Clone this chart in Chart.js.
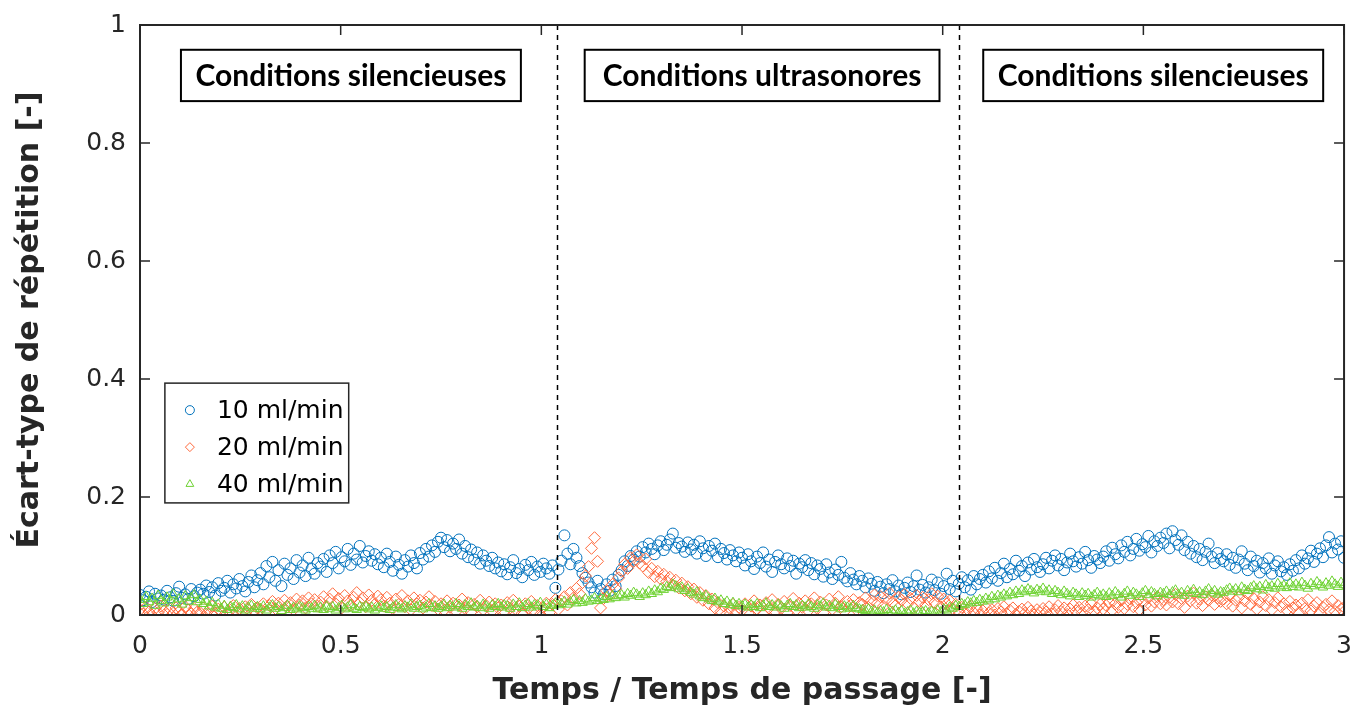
<!DOCTYPE html>
<html lang="fr">
<head>
<meta charset="UTF-8">
<title>Écart-type de répétition</title>
<script src="https://cdn.jsdelivr.net/npm/chart.js"></script>
<style>
  body { margin: 0; background: #fff; }
  canvas { display: block; }
</style>
</head>
<body>
<canvas id="stdChart" width="1360" height="711"></canvas>
<script>
// temps adimensionnel : 0 à 3 par pas de 0.0075 (401 points par série, 20 par ligne)
const xStep = 0.0075;

// 10 ml/min
const serie10 = [
  0.034, 0.025, 0.031, 0.040, 0.022, 0.036, 0.028, 0.033, 0.026, 0.041, 0.030, 0.024, 0.037, 0.048, 0.029, 0.035, 0.027, 0.044, 0.032, 0.038,
  0.043, 0.036, 0.050, 0.039, 0.047, 0.033, 0.054, 0.041, 0.046, 0.058, 0.038, 0.052, 0.045, 0.061, 0.049, 0.040, 0.056, 0.067, 0.047, 0.059,
  0.071, 0.052, 0.083, 0.064, 0.090, 0.058, 0.076, 0.049, 0.087, 0.068, 0.079, 0.061, 0.093, 0.072, 0.084, 0.066, 0.097, 0.078, 0.070, 0.088,
  0.082, 0.095, 0.073, 0.101, 0.088, 0.107, 0.079, 0.098, 0.091, 0.112, 0.085, 0.104, 0.094, 0.117, 0.089, 0.100, 0.108, 0.092, 0.103, 0.086,
  0.097, 0.081, 0.104, 0.090, 0.075, 0.099, 0.085, 0.070, 0.093, 0.082, 0.101, 0.088, 0.079, 0.105, 0.094, 0.112, 0.099, 0.118, 0.107, 0.124,
  0.131, 0.115, 0.127, 0.108, 0.121, 0.112, 0.128, 0.104, 0.117, 0.098, 0.111, 0.094, 0.106, 0.087, 0.101, 0.092, 0.083, 0.097, 0.079, 0.089,
  0.074, 0.086, 0.069, 0.081, 0.093, 0.071, 0.078, 0.064, 0.085, 0.076, 0.090, 0.068, 0.082, 0.073, 0.087, 0.079, 0.070, 0.084, 0.046, 0.077,
  0.092, 0.135, 0.104, 0.086, 0.112, 0.097, 0.083, 0.071, 0.063, 0.055, 0.047, 0.038, 0.058, 0.044, 0.035, 0.052, 0.041, 0.060, 0.049, 0.068,
  0.076, 0.091, 0.083, 0.100, 0.094, 0.108, 0.099, 0.115, 0.106, 0.121, 0.112, 0.103, 0.118, 0.125, 0.110, 0.119, 0.128, 0.138, 0.114, 0.122,
  0.116, 0.107, 0.123, 0.111, 0.119, 0.104, 0.125, 0.113, 0.100, 0.117, 0.109, 0.121, 0.098, 0.112, 0.105, 0.094, 0.110, 0.101, 0.091, 0.106,
  0.097, 0.084, 0.103, 0.091, 0.078, 0.099, 0.088, 0.106, 0.082, 0.094, 0.073, 0.090, 0.101, 0.086, 0.079, 0.096, 0.083, 0.092, 0.070, 0.087,
  0.081, 0.093, 0.076, 0.088, 0.069, 0.084, 0.078, 0.065, 0.086, 0.072, 0.061, 0.077, 0.068, 0.090, 0.063, 0.057, 0.071, 0.060, 0.052, 0.066,
  0.058, 0.047, 0.062, 0.053, 0.041, 0.056, 0.048, 0.037, 0.052, 0.044, 0.059, 0.040, 0.050, 0.035, 0.046, 0.055, 0.039, 0.049, 0.067, 0.043,
  0.051, 0.038, 0.047, 0.060, 0.042, 0.055, 0.036, 0.049, 0.070, 0.044, 0.058, 0.040, 0.053, 0.064, 0.047, 0.059, 0.043, 0.066, 0.052, 0.061,
  0.068, 0.055, 0.074, 0.062, 0.080, 0.058, 0.071, 0.087, 0.064, 0.078, 0.069, 0.092, 0.075, 0.083, 0.066, 0.089, 0.077, 0.095, 0.081, 0.073,
  0.086, 0.097, 0.079, 0.092, 0.101, 0.084, 0.095, 0.076, 0.089, 0.104, 0.091, 0.082, 0.098, 0.087, 0.107, 0.093, 0.080, 0.100, 0.094, 0.088,
  0.099, 0.108, 0.092, 0.114, 0.103, 0.096, 0.118, 0.107, 0.124, 0.101, 0.112, 0.129, 0.109, 0.120, 0.115, 0.134, 0.106, 0.125, 0.117, 0.131,
  0.122, 0.138, 0.113, 0.142, 0.127, 0.119, 0.135, 0.110, 0.124, 0.104, 0.117, 0.098, 0.112, 0.093, 0.107, 0.121, 0.099, 0.088, 0.105, 0.095,
  0.091, 0.103, 0.085, 0.097, 0.080, 0.094, 0.108, 0.087, 0.076, 0.099, 0.083, 0.092, 0.072, 0.088, 0.079, 0.096, 0.070, 0.084, 0.091, 0.074,
  0.081, 0.068, 0.086, 0.075, 0.093, 0.079, 0.101, 0.087, 0.096, 0.109, 0.090, 0.104, 0.113, 0.098, 0.118, 0.132, 0.106, 0.121, 0.111, 0.125,
  0.097
];

// 20 ml/min
const serie20 = [
  0.009, 0.002, 0.013, 0.005, 0.000, 0.011, 0.004, 0.015, 0.007, 0.001, 0.010, 0.003, 0.012, 0.006, 0.000, 0.014, 0.008, 0.002, 0.011, 0.005,
  0.004, 0.012, 0.001, 0.009, 0.015, 0.003, 0.010, 0.006, 0.013, 0.002, 0.008, 0.016, 0.005, 0.011, 0.004, 0.014, 0.009, 0.018, 0.007, 0.012,
  0.010, 0.019, 0.006, 0.016, 0.023, 0.011, 0.020, 0.008, 0.025, 0.014, 0.021, 0.009, 0.027, 0.017, 0.024, 0.012, 0.029, 0.019, 0.026, 0.015,
  0.022, 0.031, 0.015, 0.027, 0.036, 0.019, 0.028, 0.012, 0.033, 0.024, 0.017, 0.030, 0.038, 0.021, 0.029, 0.014, 0.034, 0.025, 0.018, 0.032,
  0.026, 0.015, 0.030, 0.020, 0.011, 0.027, 0.018, 0.033, 0.014, 0.024, 0.009, 0.029, 0.019, 0.025, 0.012, 0.022, 0.031, 0.016, 0.023, 0.010,
  0.019, 0.008, 0.024, 0.013, 0.020, 0.006, 0.017, 0.027, 0.011, 0.021, 0.005, 0.018, 0.014, 0.025, 0.009, 0.016, 0.022, 0.007, 0.019, 0.012,
  0.017, 0.006, 0.021, 0.012, 0.025, 0.009, 0.015, 0.003, 0.019, 0.011, 0.023, 0.007, 0.016, 0.001, 0.013, 0.020, 0.004, 0.018, 0.026, 0.010,
  0.024, 0.031, 0.017, 0.038, 0.029, 0.045, 0.036, 0.055, 0.066, 0.082, 0.113, 0.131, 0.091, 0.012, 0.028, 0.041, 0.034, 0.052, 0.045, 0.063,
  0.074, 0.086, 0.079, 0.097, 0.091, 0.102, 0.088, 0.083, 0.095, 0.072, 0.079, 0.065, 0.074, 0.061, 0.069, 0.057, 0.064, 0.051, 0.059, 0.046,
  0.054, 0.041, 0.048, 0.036, 0.044, 0.030, 0.038, 0.025, 0.033, 0.019, 0.027, 0.012, 0.021, 0.006, 0.015, 0.002, 0.011, 0.018, 0.004, 0.013,
  0.008, 0.019, 0.003, 0.015, 0.024, 0.010, 0.017, 0.001, 0.021, 0.012, 0.026, 0.006, 0.018, 0.011, 0.023, 0.004, 0.016, 0.028, 0.009, 0.020,
  0.013, 0.024, 0.007, 0.019, 0.029, 0.011, 0.022, 0.004, 0.017, 0.027, 0.010, 0.020, 0.031, 0.014, 0.006, 0.023, 0.016, 0.026, 0.009, 0.021,
  0.018, 0.029, 0.013, 0.024, 0.034, 0.020, 0.031, 0.015, 0.027, 0.037, 0.022, 0.016, 0.030, 0.025, 0.035, 0.019, 0.028, 0.012, 0.033, 0.023,
  0.030, 0.017, 0.026, 0.036, 0.021, 0.032, 0.014, 0.027, 0.019, 0.024, 0.011, 0.018, 0.006, 0.013, 0.002, 0.009, 0.015, 0.004, 0.011, 0.000,
  0.007, 0.013, 0.003, 0.009, 0.000, 0.011, 0.005, 0.014, 0.002, 0.008, 0.012, 0.001, 0.006, 0.010, 0.003, 0.013, 0.007, 0.000, 0.009, 0.004,
  0.011, 0.005, 0.014, 0.002, 0.009, 0.016, 0.006, 0.012, 0.001, 0.010, 0.017, 0.007, 0.013, 0.004, 0.015, 0.009, 0.019, 0.006, 0.012, 0.018,
  0.010, 0.016, 0.022, 0.008, 0.019, 0.013, 0.025, 0.011, 0.018, 0.027, 0.014, 0.021, 0.009, 0.024, 0.017, 0.029, 0.015, 0.022, 0.031, 0.019,
  0.026, 0.017, 0.030, 0.022, 0.035, 0.019, 0.028, 0.013, 0.032, 0.024, 0.037, 0.020, 0.027, 0.016, 0.031, 0.025, 0.034, 0.018, 0.029, 0.023,
  0.027, 0.019, 0.033, 0.015, 0.025, 0.030, 0.012, 0.024, 0.036, 0.018, 0.028, 0.010, 0.022, 0.031, 0.016, 0.026, 0.009, 0.021, 0.029, 0.014,
  0.019, 0.008, 0.023, 0.012, 0.017, 0.004, 0.020, 0.011, 0.026, 0.007, 0.015, 0.021, 0.003, 0.013, 0.018, 0.009, 0.024, 0.006, 0.016, 0.010,
  0.013
];

// 40 ml/min
const serie40 = [
  0.026, 0.019, 0.031, 0.022, 0.028, 0.016, 0.033, 0.024, 0.020, 0.030, 0.025, 0.035, 0.021, 0.027, 0.018, 0.032, 0.023, 0.029, 0.034, 0.022,
  0.026, 0.019, 0.023, 0.015, 0.021, 0.013, 0.018, 0.011, 0.016, 0.009, 0.014, 0.012, 0.017, 0.010, 0.015, 0.008, 0.013, 0.016, 0.011, 0.014,
  0.010, 0.015, 0.008, 0.013, 0.017, 0.011, 0.014, 0.007, 0.012, 0.016, 0.009, 0.013, 0.010, 0.015, 0.012, 0.008, 0.014, 0.011, 0.016, 0.010,
  0.013, 0.009, 0.015, 0.011, 0.014, 0.008, 0.012, 0.016, 0.010, 0.013, 0.017, 0.011, 0.009, 0.014, 0.012, 0.015, 0.010, 0.013, 0.008, 0.012,
  0.015, 0.011, 0.014, 0.009, 0.013, 0.017, 0.012, 0.010, 0.015, 0.013, 0.018, 0.011, 0.014, 0.016, 0.010, 0.013, 0.019, 0.012, 0.015, 0.011,
  0.014, 0.018, 0.012, 0.016, 0.013, 0.019, 0.015, 0.011, 0.017, 0.014, 0.020, 0.013, 0.016, 0.012, 0.018, 0.015, 0.011, 0.017, 0.014, 0.019,
  0.013, 0.017, 0.015, 0.011, 0.018, 0.014, 0.020, 0.012, 0.016, 0.019, 0.013, 0.017, 0.015, 0.021, 0.014, 0.018, 0.012, 0.016, 0.020, 0.017,
  0.019, 0.023, 0.018, 0.022, 0.026, 0.020, 0.024, 0.021, 0.027, 0.023, 0.025, 0.029, 0.024, 0.028, 0.026, 0.031, 0.027, 0.033, 0.029, 0.032,
  0.034, 0.030, 0.036, 0.033, 0.038, 0.035, 0.031, 0.037, 0.034, 0.040, 0.036, 0.042, 0.039, 0.045, 0.043, 0.048, 0.046, 0.052, 0.049, 0.044,
  0.047, 0.041, 0.044, 0.038, 0.035, 0.039, 0.032, 0.029, 0.033, 0.027, 0.024, 0.028, 0.022, 0.025, 0.019, 0.023, 0.017, 0.021, 0.016, 0.019,
  0.015, 0.018, 0.013, 0.017, 0.014, 0.019, 0.012, 0.016, 0.020, 0.014, 0.017, 0.013, 0.018, 0.015, 0.011, 0.016, 0.019, 0.014, 0.017, 0.012,
  0.016, 0.013, 0.018, 0.014, 0.011, 0.017, 0.015, 0.020, 0.013, 0.016, 0.012, 0.018, 0.014, 0.010, 0.015, 0.013, 0.011, 0.016, 0.012, 0.010,
  0.009, 0.007, 0.010, 0.006, 0.008, 0.004, 0.007, 0.005, 0.009, 0.003, 0.006, 0.008, 0.004, 0.007, 0.002, 0.005, 0.008, 0.003, 0.006, 0.004,
  0.005, 0.007, 0.003, 0.006, 0.004, 0.008, 0.005, 0.010, 0.008, 0.013, 0.011, 0.016, 0.014, 0.019, 0.017, 0.022, 0.020, 0.024, 0.021, 0.026,
  0.023, 0.028, 0.025, 0.031, 0.027, 0.033, 0.030, 0.035, 0.032, 0.038, 0.034, 0.040, 0.036, 0.042, 0.039, 0.044, 0.041, 0.037, 0.043, 0.040,
  0.045, 0.039, 0.042, 0.036, 0.041, 0.038, 0.034, 0.040, 0.036, 0.032, 0.038, 0.035, 0.031, 0.037, 0.033, 0.036, 0.030, 0.034, 0.038, 0.032,
  0.035, 0.031, 0.037, 0.033, 0.039, 0.034, 0.030, 0.036, 0.040, 0.033, 0.038, 0.035, 0.031, 0.037, 0.041, 0.034, 0.039, 0.036, 0.032, 0.038,
  0.036, 0.040, 0.034, 0.039, 0.042, 0.035, 0.038, 0.033, 0.041, 0.037, 0.043, 0.036, 0.039, 0.034, 0.040, 0.044, 0.037, 0.041, 0.035, 0.039,
  0.038, 0.042, 0.045, 0.040, 0.044, 0.039, 0.047, 0.043, 0.041, 0.046, 0.049, 0.044, 0.048, 0.042, 0.051, 0.046, 0.049, 0.045, 0.053, 0.047,
  0.050, 0.046, 0.054, 0.048, 0.052, 0.047, 0.055, 0.050, 0.045, 0.053, 0.049, 0.056, 0.051, 0.047, 0.054, 0.050, 0.057, 0.052, 0.048, 0.055,
  0.051
];

const seriesLabels = ['10 ml/min', '20 ml/min', '40 ml/min'];
const xTickLabels = ['0', '0.5', '1', '1.5', '2', '2.5', '3'];
const yTickLabels = ['0', '0.2', '0.4', '0.6', '0.8', '1'];

// séparations entre phases (lignes pointillées)
const phaseLimits = [1.04, 2.04];
// cadres de texte : [xmin, xmax, ymax, ymin, texte]
const phaseBoxes = [
  [0.102, 0.949, 0.958, 0.871, 'Conditions silencieuses'],
  [1.108, 1.992, 0.958, 0.871, 'Conditions ultrasonores'],
  [2.101, 2.948, 0.958, 0.871, 'Conditions silencieuses']
];

const axisColor = '#262626';
const tickFont = { family: 'DejaVu Sans', size: 25 };
const titleFont = { family: 'DejaVu Sans', size: 30, weight: 'bold' };

function toPoints(vals) {
  return vals.map((v, i) => ({ x: i * xStep, y: v }));
}

// cadre, graduations intérieures, pointillés, encadrés et légende
const decorPlugin = {
  id: 'decor',
  afterDatasetsDraw(chart) {
    const ctx = chart.ctx;
    const area = chart.chartArea;
    const xs = chart.scales.x;
    const ys = chart.scales.y;
    ctx.save();

    // lignes pointillées
    ctx.strokeStyle = '#000';
    ctx.lineWidth = 1.5;
    ctx.setLineDash([5, 5]);
    phaseLimits.forEach(v => {
      const px = Math.round(xs.getPixelForValue(v)) + 0.5;
      ctx.beginPath();
      ctx.moveTo(px, area.top);
      ctx.lineTo(px, area.bottom);
      ctx.stroke();
    });
    ctx.setLineDash([]);

    // cadre des axes
    ctx.strokeStyle = axisColor;
    ctx.lineWidth = 2;
    ctx.strokeRect(area.left, area.top, area.right - area.left, area.bottom - area.top);

    // graduations vers l'intérieur
    const tl = 10;
    ctx.beginPath();
    xs.ticks.forEach(t => {
      const px = xs.getPixelForValue(t.value);
      ctx.moveTo(px, area.bottom); ctx.lineTo(px, area.bottom - tl);
      ctx.moveTo(px, area.top); ctx.lineTo(px, area.top + tl);
    });
    ys.ticks.forEach(t => {
      const py = ys.getPixelForValue(t.value);
      ctx.moveTo(area.left, py); ctx.lineTo(area.left + tl, py);
      ctx.moveTo(area.right, py); ctx.lineTo(area.right - tl, py);
    });
    ctx.lineWidth = 1.5;
    ctx.stroke();

    // encadrés des phases
    ctx.font = 'bold 30px Lato';
    ctx.textAlign = 'center';
    ctx.textBaseline = 'middle';
    phaseBoxes.forEach(b => {
      const x0 = xs.getPixelForValue(b[0]);
      const x1 = xs.getPixelForValue(b[1]);
      const y0 = ys.getPixelForValue(b[2]);
      const y1 = ys.getPixelForValue(b[3]);
      ctx.fillStyle = '#fff';
      ctx.fillRect(x0, y0, x1 - x0, y1 - y0);
      ctx.strokeStyle = '#000';
      ctx.lineWidth = 2;
      ctx.strokeRect(x0, y0, x1 - x0, y1 - y0);
      ctx.fillStyle = '#000';
      ctx.fillText(b[4], (x0 + x1) / 2, (y0 + y1) / 2 + 1);
    });

    // légende
    const lx0 = xs.getPixelForValue(0.062);
    const lx1 = xs.getPixelForValue(0.52);
    const ly0 = ys.getPixelForValue(0.393);
    const ly1 = ys.getPixelForValue(0.19);
    ctx.fillStyle = '#fff';
    ctx.fillRect(lx0, ly0, lx1 - lx0, ly1 - ly0);
    ctx.strokeStyle = axisColor;
    ctx.lineWidth = 1.5;
    ctx.strokeRect(lx0, ly0, lx1 - lx0, ly1 - ly0);
    ctx.font = '25px "DejaVu Sans"';
    ctx.textAlign = 'left';
    chart.data.datasets.forEach((ds, i) => {
      const rowY = ly0 + 27 + i * 37;
      ctx.strokeStyle = ds.borderColor;
      ctx.fillStyle = 'rgba(0, 0, 0, 0)';
      ctx.lineWidth = 1;
      Chart.helpers.drawPoint(ctx, { pointStyle: ds.pointStyle, radius: 4.5, borderWidth: 1 }, lx0 + 25, rowY);
      ctx.fillStyle = '#000';
      ctx.fillText(ds.label, lx0 + 52, rowY + 1);
    });

    ctx.restore();
  }
};

const ctx = document.getElementById('stdChart').getContext('2d');
new Chart(ctx, {
  type: 'scatter',
  data: {
    datasets: [
      {
        label: seriesLabels[0],
        data: toPoints(serie10),
        pointStyle: 'circle',
        borderColor: 'rgb(0, 114, 189)',
        backgroundColor: 'rgba(0, 0, 0, 0)',
        pointRadius: 5.5,
        borderWidth: 1,
        order: 3
      },
      {
        label: seriesLabels[1],
        data: toPoints(serie20),
        pointStyle: 'rectRot',
        borderColor: 'rgb(255, 105, 60)',
        backgroundColor: 'rgba(0, 0, 0, 0)',
        pointRadius: 6,
        borderWidth: 1,
        order: 2
      },
      {
        label: seriesLabels[2],
        data: toPoints(serie40),
        pointStyle: 'triangle',
        borderColor: 'rgb(110, 210, 50)',
        backgroundColor: 'rgba(0, 0, 0, 0)',
        pointRadius: 5.5,
        borderWidth: 1,
        order: 1
      }
    ]
  },
  options: {
    responsive: false,
    animation: false,
    events: [],
    layout: { padding: { left: 0, right: 12, top: 25, bottom: 0 } },
    plugins: {
      legend: { display: false },
      tooltip: { enabled: false }
    },
    scales: {
      x: {
        type: 'linear',
        min: 0,
        max: 3,
        grid: { display: false },
        border: { display: false },
        ticks: {
          stepSize: 0.5,
          color: axisColor,
          font: tickFont,
          padding: 8,
          maxRotation: 0,
          callback: (v, i) => xTickLabels[i]
        },
        title: {
          display: true,
          text: 'Temps / Temps de passage [-]',
          color: axisColor,
          font: titleFont,
          padding: { top: 0, bottom: 2 }
        },
        afterFit(scale) { scale.height = 96; }
      },
      y: {
        type: 'linear',
        min: 0,
        max: 1,
        grid: { display: false },
        border: { display: false },
        ticks: {
          stepSize: 0.2,
          color: axisColor,
          font: tickFont,
          padding: 6,
          callback: (v, i) => yTickLabels[i]
        },
        title: {
          display: true,
          text: 'Écart-type de répétition [-]',
          color: axisColor,
          font: titleFont,
          padding: { top: 12, bottom: 0 }
        },
        afterFit(scale) { scale.width = 140; }
      }
    }
  },
  plugins: [decorPlugin]
});
</script>
</body>
</html>
